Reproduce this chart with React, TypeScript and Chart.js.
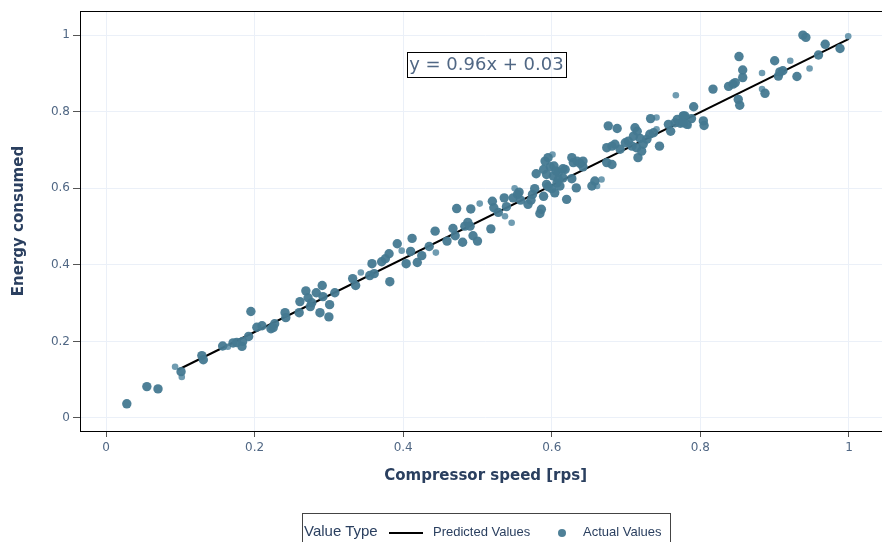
import React, { useEffect, useRef } from 'react';
import { Chart, registerables } from 'chart.js';

Chart.register(...registerables);

// ---- Data ----
const xTitle = 'Compressor speed [rps]';
const yTitle = 'Energy consumed';
const legendTitle = 'Value Type';
const predictedLabel = 'Predicted Values';
const actualLabel = 'Actual Values';
const equationText = 'y = 0.96x + 0.03';
const equationAt: [number, number] = [0.512, 0.923];

const xTicks = [0, 0.2, 0.4, 0.6, 0.8, 1];
const yTicks = [0, 0.2, 0.4, 0.6, 0.8, 1];
const xRange: [number, number] = [-0.035, 1.057];
const yRange: [number, number] = [-0.034, 1.063];

const predictedX = [0.097, 1.0];
const predictedY = [0.126, 0.99];

const actualValues: [number, number][] = [
  [0.028, 0.037], [0.055, 0.082], [0.070, 0.076], [0.101, 0.121], [0.129, 0.163],
  [0.131, 0.152], [0.157, 0.188], [0.171, 0.196], [0.176, 0.197], [0.183, 0.187],
  [0.184, 0.200], [0.192, 0.213], [0.195, 0.278], [0.203, 0.237], [0.210, 0.241],
  [0.222, 0.233], [0.225, 0.236], [0.227, 0.246], [0.241, 0.275], [0.242, 0.262],
  [0.260, 0.275], [0.261, 0.304], [0.269, 0.332], [0.272, 0.314], [0.277, 0.301],
  [0.275, 0.291], [0.283, 0.327], [0.291, 0.346], [0.292, 0.317], [0.288, 0.275],
  [0.300, 0.264], [0.301, 0.296], [0.308, 0.327], [0.332, 0.364], [0.336, 0.346],
  [0.355, 0.372], [0.358, 0.403], [0.361, 0.377], [0.371, 0.408], [0.376, 0.416],
  [0.381, 0.429], [0.382, 0.356], [0.392, 0.455], [0.404, 0.403], [0.412, 0.469],
  [0.410, 0.435], [0.419, 0.406], [0.425, 0.424], [0.435, 0.448], [0.443, 0.488],
  [0.459, 0.462], [0.467, 0.495], [0.470, 0.476], [0.472, 0.547], [0.480, 0.459],
  [0.483, 0.501], [0.487, 0.511], [0.490, 0.501], [0.491, 0.546], [0.494, 0.476],
  [0.500, 0.462], [0.518, 0.494], [0.520, 0.566], [0.522, 0.549], [0.528, 0.537],
  [0.536, 0.575], [0.539, 0.552], [0.548, 0.575], [0.554, 0.584], [0.558, 0.569],
  [0.556, 0.590], [0.568, 0.558], [0.572, 0.569], [0.574, 0.584], [0.577, 0.599],
  [0.579, 0.638], [0.584, 0.534], [0.589, 0.579], [0.591, 0.671], [0.595, 0.680],
  [0.593, 0.610], [0.600, 0.599], [0.604, 0.588], [0.607, 0.614], [0.603, 0.658],
  [0.609, 0.642], [0.615, 0.627], [0.618, 0.649], [0.620, 0.571], [0.589, 0.649],
  [0.593, 0.636], [0.598, 0.656], [0.602, 0.632], [0.606, 0.645], [0.609, 0.623],
  [0.611, 0.606], [0.586, 0.545], [0.595, 0.604], [0.615, 0.651], [0.627, 0.680],
  [0.629, 0.667], [0.634, 0.671], [0.638, 0.665], [0.642, 0.671], [0.642, 0.656],
  [0.627, 0.625], [0.633, 0.601], [0.654, 0.606], [0.658, 0.619], [0.674, 0.667],
  [0.681, 0.662], [0.674, 0.706], [0.681, 0.710], [0.685, 0.715], [0.676, 0.763],
  [0.688, 0.756], [0.692, 0.702], [0.699, 0.719], [0.703, 0.723], [0.708, 0.710],
  [0.710, 0.736], [0.712, 0.758], [0.715, 0.749], [0.719, 0.730], [0.714, 0.706],
  [0.716, 0.680], [0.721, 0.697], [0.723, 0.715], [0.728, 0.728], [0.732, 0.741],
  [0.737, 0.745], [0.733, 0.782], [0.745, 0.710], [0.757, 0.767], [0.760, 0.749],
  [0.766, 0.771], [0.769, 0.780], [0.773, 0.770], [0.779, 0.789], [0.782, 0.767],
  [0.788, 0.782], [0.791, 0.813], [0.804, 0.776], [0.805, 0.764], [0.777, 0.789],
  [0.777, 0.771], [0.817, 0.859], [0.838, 0.866], [0.844, 0.872], [0.847, 0.876],
  [0.852, 0.944], [0.857, 0.909], [0.857, 0.889], [0.851, 0.832], [0.853, 0.817],
  [0.887, 0.848], [0.900, 0.933], [0.905, 0.893], [0.907, 0.904], [0.911, 0.907],
  [0.930, 0.892], [0.938, 1.000], [0.942, 0.994], [0.959, 0.948], [0.968, 0.976],
  [0.988, 0.965],
];

const actualValuesLight: [number, number][] = [
  [0.093, 0.134], [0.102, 0.107], [0.164, 0.186], [0.343, 0.380], [0.398, 0.437],
  [0.444, 0.432], [0.503, 0.560], [0.537, 0.527], [0.546, 0.510], [0.550, 0.600],
  [0.601, 0.688], [0.661, 0.606], [0.667, 0.623], [0.741, 0.754], [0.741, 0.785],
  [0.776, 0.791], [0.767, 0.843], [0.784, 0.763], [0.883, 0.901], [0.883, 0.859],
  [0.921, 0.933], [0.947, 0.913], [0.999, 0.997],
];

// ---- Styles ----
const markerDark = 'rgba(68,121,145,0.95)';
const markerLight = 'rgba(96,145,168,0.9)';
const gridColor = '#ebf0f8';
const tickLabelColor = '#506784';
const titleColor = '#2a3f5f';
const FONT = '"DejaVu Sans", Verdana, sans-serif';
const LEGEND_FONT = '"Liberation Sans", Arial, sans-serif';

const fmt = (v: number) => String(Math.round(v * 10) / 10);

const framePlugin = {
  id: 'frame',
  afterDatasetsDraw(chart: any) {
    const { ctx, chartArea: a } = chart;
    ctx.save();
    ctx.strokeStyle = '#000';
    ctx.lineWidth = 1;
    ctx.strokeRect(Math.round(a.left) + 0.5, Math.round(a.top) + 0.5,
      Math.round(a.right - a.left), Math.round(a.bottom - a.top));
    ctx.restore();
  },
};

const equationPlugin = {
  id: 'equation',
  afterDatasetsDraw(chart: any) {
    const { ctx, scales } = chart;
    const cx = scales.x.getPixelForValue(equationAt[0]);
    const cy = scales.y.getPixelForValue(equationAt[1]);
    ctx.save();
    ctx.font = `18px ${FONT}`;
    const w = ctx.measureText(equationText).width;
    const h = 25;
    const left = Math.round(cx - w / 2 - 2);
    const top = Math.round(cy - h / 2);
    ctx.strokeStyle = '#000';
    ctx.lineWidth = 1;
    ctx.strokeRect(left + 0.5, top + 0.5, Math.round(w + 4), h);
    ctx.fillStyle = tickLabelColor;
    ctx.textAlign = 'center';
    ctx.textBaseline = 'middle';
    ctx.fillText(equationText, cx, cy + 1);
    ctx.restore();
  },
};

export default function App() {
  const ref = useRef<HTMLCanvasElement | null>(null);

  useEffect(() => {
    if (!ref.current) return;
    const chart = new Chart(ref.current, {
      type: 'scatter',
      data: {
        datasets: [
          {
            label: predictedLabel,
            data: predictedX.map((x, i) => ({ x, y: predictedY[i] })),
            showLine: true,
            borderColor: '#000',
            borderWidth: 2,
            pointRadius: 0,
            fill: false,
            order: 3,
          },
          {
            label: actualLabel,
            data: actualValues.map(([x, y]) => ({ x, y })),
            backgroundColor: markerDark,
            borderWidth: 0,
            pointRadius: 4.7,
            order: 1,
          },
          {
            label: actualLabel + ' (light)',
            data: actualValuesLight.map(([x, y]) => ({ x, y })),
            backgroundColor: markerLight,
            borderWidth: 0,
            pointRadius: 3.3,
            order: 2,
          },
        ],
      } as any,
      options: {
        animation: false,
        responsive: false,
        devicePixelRatio: 1,
        events: [],
        layout: { padding: { top: 11, right: 2, left: 0, bottom: 0 } },
        plugins: { legend: { display: false }, tooltip: { enabled: false } },
        scales: {
          x: {
            type: 'linear',
            min: xRange[0],
            max: xRange[1],
            afterBuildTicks: (s: any) => { s.ticks = xTicks.map((value) => ({ value })); },
            afterFit: (s: any) => { s.height = 111; },
            grid: { color: gridColor, lineWidth: 1, tickColor: '#555', tickLength: 6, drawTicks: true },
            border: { display: false },
            ticks: {
              color: tickLabelColor,
              font: { family: FONT, size: 12 },
              padding: 4,
              maxRotation: 0,
              autoSkip: false,
              callback: (v: any) => fmt(Number(v)),
            },
            title: {
              display: true,
              text: xTitle,
              color: titleColor,
              font: { family: FONT, size: 15, weight: 'bold' },
              padding: { top: 0, bottom: 57 },
            },
          },
          y: {
            type: 'linear',
            min: yRange[0],
            max: yRange[1],
            afterBuildTicks: (s: any) => { s.ticks = yTicks.map((value) => ({ value })); },
            afterFit: (s: any) => { s.width = 80; },
            grid: { color: gridColor, lineWidth: 1, tickColor: '#555', tickLength: 7, drawTicks: true },
            border: { display: false },
            ticks: {
              color: tickLabelColor,
              font: { family: FONT, size: 12 },
              padding: 3,
              autoSkip: false,
              callback: (v: any) => fmt(Number(v)),
            },
            title: {
              display: true,
              text: yTitle,
              color: titleColor,
              font: { family: FONT, size: 15, weight: 'bold' },
              padding: { top: 10, bottom: 0 },
            },
          },
        },
      } as any,
      plugins: [framePlugin, equationPlugin],
    });
    return () => chart.destroy();
  }, []);

  const abs = (s: React.CSSProperties): React.CSSProperties => ({ position: 'absolute', ...s });

  return (
    <div style={{ position: 'fixed', left: 0, top: 0, width: 882, height: 542, overflow: 'hidden', background: '#fff' }}>
      <canvas ref={ref} width={896} height={542} style={{ display: 'block', width: 896, height: 542 }} />
      <div style={abs({ left: 302, top: 513, width: 369, height: 40, border: '1px solid #444', boxSizing: 'border-box' })} />
      <div style={abs({ left: 304, top: 521, height: 20, lineHeight: '20px', fontSize: 15, fontFamily: LEGEND_FONT, color: '#2a3f5f', whiteSpace: 'nowrap' })}>{legendTitle}</div>
      <div style={abs({ left: 389, top: 532, width: 34, height: 2, background: '#000' })} />
      <div style={abs({ left: 433, top: 522, height: 20, lineHeight: '20px', fontSize: 13, fontFamily: LEGEND_FONT, color: '#2a3f5f', whiteSpace: 'nowrap' })}>{predictedLabel}</div>
      <div style={abs({ left: 558, top: 529, width: 8, height: 8, borderRadius: '50%', background: markerDark })} />
      <div style={abs({ left: 583, top: 522, height: 20, lineHeight: '20px', fontSize: 13, fontFamily: LEGEND_FONT, color: '#2a3f5f', whiteSpace: 'nowrap' })}>{actualLabel}</div>
    </div>
  );
}
